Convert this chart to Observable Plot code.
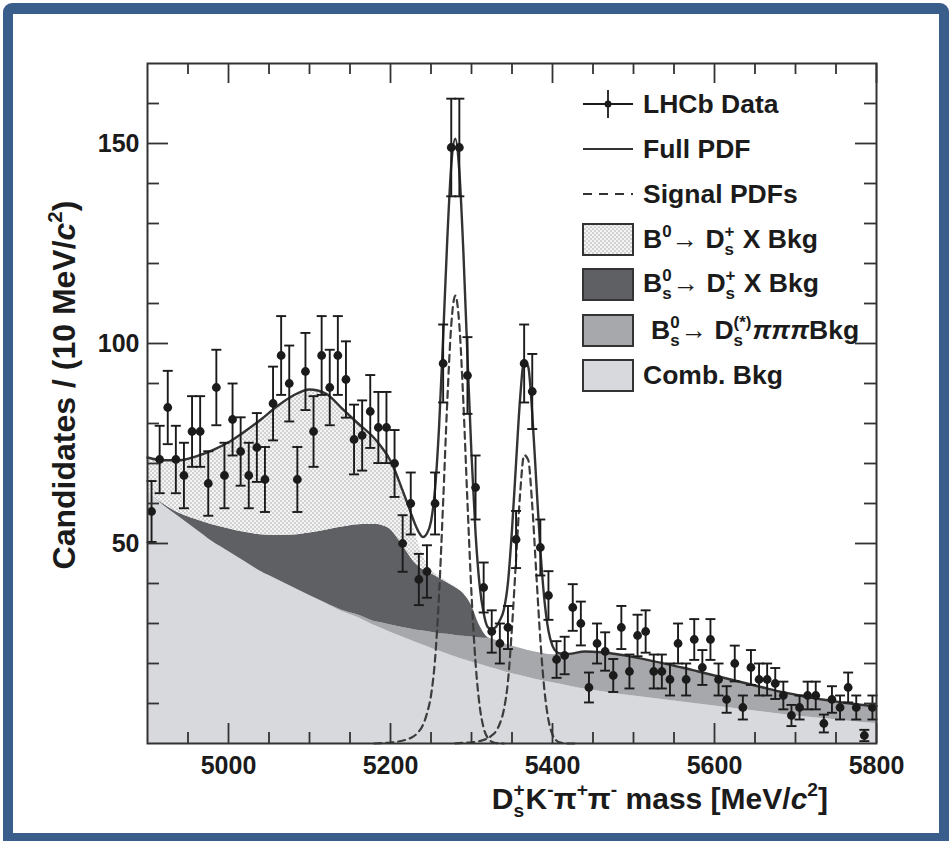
<!DOCTYPE html>
<html><head><meta charset="utf-8">
<script src="https://cdn.jsdelivr.net/npm/d3@7"></script>
<script src="https://cdn.jsdelivr.net/npm/@observablehq/plot@0.6"></script>
<style>body{margin:0;background:#fff;} svg{display:block;}</style>
</head><body><div id="chart"></div>
<script>
// ---------------- data ----------------
const binCenters = [4905,4915,4925,4935,4945,4955,4965,4975,4985,4995,
  5005,5015,5025,5035,5045,5055,5065,5075,5085,5095,
  5105,5115,5125,5135,5145,5155,5165,5175,5185,5195,
  5205,5215,5225,5235,5245,5255,5265,5275,5285,5295,
  5305,5315,5325,5335,5345,5355,5365,5375,5385,5395,
  5405,5415,5425,5435,5445,5455,5465,5475,5485,5495,
  5505,5515,5525,5535,5545,5555,5565,5575,5585,5595,
  5605,5615,5625,5635,5645,5655,5665,5675,5685,5695,
  5705,5715,5725,5735,5745,5755,5765,5775,5785,5795];
const counts = [58,71,84,71,67,78,78,65,89,67,
  81,73,67,74,66,85,97,90,66,93,
  78,97,89,97,91,76,77,83,79,79,
  70,50,60,41,43,60,95,149,149,92,
  64,39,28,25,29,51,95,88,49,37,
  21,22,34,30,14,25,23,17,29,18,
  27,28,18,18,16,25,16,26,19,26,
  16,11,20,9,19,16,16,15,12,7,
  9,12,12,5,11,9,14,9,2,9];

// background components (stacked, bottom to top), on a common mass grid
const bkgMass = [4900,4920,4940,4960,4980,5000,5020,5040,5060,5080,5100,5120,5140,5160,5180,
  5190,5200,5210,5220,5230,5240,5250,5260,5270,5280,5290,5300,5310,5320,5330,5340,
  5360,5380,5400,5420,5440,5460,5480,5500,5520,5540,5560,5580,5600,5620,5640,5660,5680,5700,5720,5740,5760,5780,5800];
const combBkg = [63,59.5,56.5,53.5,50.5,48,45.5,43,41,39,37,35,33,31.5,29.5,
  28.7,27.8,27,26.2,25.4,24.6,23.8,23.1,22.4,21.7,21,20.4,19.8,19.2,18.6,18,
  17,16,15.2,14.4,13.6,13,12.4,11.9,11.4,10.9,10.4,9.9,9.4,8.9,8.4,7.9,7.4,6.9,6.5,6.1,5.7,5.3,5.0];
const bsDsPiPiPiBkg = [0,0,0,0,0,0,0,0,0,0,0,0.1,0.3,0.6,1.0,
  1.4,1.8,2.2,2.6,3.0,3.5,4.0,4.4,4.9,5.3,5.8,6.2,6.6,7.1,7.2,7.0,
  6.8,6.8,7.0,8.0,9.4,9.8,9.9,9.7,9.4,9.0,8.6,8.1,7.6,7.1,6.6,6.1,5.6,5.3,4.9,4.7,4.5,4.4,4.3];
const bsDsXBkg = [0,0.3,1.0,2.5,4.2,5.7,7.3,9.2,11,13.1,15.6,18.2,20.8,22.6,24.3,
  24.4,23.9,21.8,19.2,16.8,15.4,14.7,13.8,12.9,12,10.7,7.9,3.1,0.2,0,0,
  0,0,0,0,0,0,0,0,0,0,0,0,0,0,0,0,0,0,0,0,0,0,0];
const b0DsXBkg = [8.5,11,13.3,15.8,18.6,21.6,25.2,28.8,32.3,34.9,35.9,34.2,29.7,25.3,21.5,
  19.2,17,14.5,11.5,7.8,3.5,1.0,0.6,0.3,0.2,0.1,0,0,0,0,0,
  0,0,0,0,0,0,0,0,0,0,0,0,0,0,0,0,0,0,0,0,0,0,0];

// signal PDFs (dashed)
const sig1Mass = [5180,5190,5200,5210,5220,5225,5230,5235,5240,5245,5250,5255,5260,5265,5270,5275,5280,5285,5290,5295,5300,5305,5310,5315,5320,5325,5330,5335,5340];
const sig1 = [0,0.1,0.25,0.5,1,1.4,2,3,4.6,7.5,12,21,37.4,60.4,85.1,104.6,112,104.6,85.1,60.4,37.4,20.2,9.5,3.9,1.4,0.45,0.12,0.03,0];
const sig2Mass = [5280,5290,5300,5310,5315,5320,5325,5330,5335,5340,5345,5350,5355,5360,5365,5370,5375,5380,5385,5390,5395,5400,5405,5410,5420,5430];
const sig2 = [0.05,0.15,0.3,0.6,0.9,1.3,2,3,5,8.5,15.5,29,46,62.4,72.1,70.9,59.5,42.5,25.9,13.4,5.9,2.2,0.7,0.2,0,0];

// full PDF (solid)
const fullMass = [4900,4920,4940,4960,4980,5000,5020,5040,5060,5080,5100,5120,5140,5160,5180,5190,5200,
  5205,5210,5215,5220,5225,5230,5235,5240,5245,5250,5255,5260,5265,5270,5275,5280,5285,5290,5295,5300,
  5305,5310,5315,5320,5325,5330,5335,5340,5345,5350,5355,5360,5365,5370,5375,5380,5385,5390,5395,5400,5405,5410,
  5420,5440,5460,5480,5500,5520,5540,5560,5580,5600,5620,5640,5660,5680,5700,5720,5740,5760,5780,5800];
const fullPdf = [71.5,70.8,70.8,71.8,73.3,75.3,78,81,84.3,87,88.5,87.5,83.8,80,76.3,73.8,70.7,
  68.5,65.9,63.2,60.5,57.7,55,52.8,51.6,52.5,55.5,63.6,79.3,101.6,125.6,144.5,151.2,143,122.8,96.8,72.2,
  52.6,39.6,32.6,29.1,28.6,29.1,30.8,33.5,40.2,53.4,70.1,86.2,95.6,94.2,82.5,65.3,48.5,35.9,28.2,24.4,22.9,22.5,
  22.4,23,22.8,22.3,21.6,20.8,19.9,19,18,17,16,15,14,13,12.2,11.4,10.8,10.2,9.7,9.3];

// axis ticks
const xMajorTicks = [5000,5200,5400,5600,5800];
const xMinorTicks = [4950,5050,5100,5150,5250,5300,5350,5450,5500,5550,5650,5700,5750];
const yMajorTicks = [50,100,150];
const yMinorTicks = [10,20,30,40,60,70,80,90,110,120,130,140,160];

const compNames = ["Comb. Bkg","Bs->Ds(*)pipipi Bkg","Bs->Ds X Bkg","B0->Ds X Bkg"];
const compValues = [combBkg, bsDsPiPiPiBkg, bsDsXBkg, b0DsXBkg];

// ---------------- styles ----------------
const FONT = "'Liberation Sans', Arial, Helvetica, sans-serif";
const INK = "#1b1b1b";
const compFills = ["#d8d9dc", "#a7a8ab", "#5f6064", "url(#checker)"];

// ---------------- tables ----------------
const bkgTable = [];
compNames.forEach((c, i) => bkgMass.forEach((m, j) => bkgTable.push({mass: m, value: compValues[i][j], comp: c})));
const dataTable = binCenters.map((m, i) => ({mass: m, count: counts[i], lo: counts[i] - Math.sqrt(counts[i]), hi: counts[i] + Math.sqrt(counts[i])}));
const capTable = dataTable.flatMap(d => [{mass: d.mass, y: d.lo}, {mass: d.mass, y: d.hi}]);
const sig1Table = sig1Mass.map((m, i) => ({mass: m, value: sig1[i]}));
const sig2Table = sig2Mass.map((m, i) => ({mass: m, value: sig2[i]}));
const fullTable = fullMass.map((m, i) => ({mass: m, value: fullPdf[i]}));

const W = 952, H = 841, mL = 147, mR = 76, mT = 63, mB = 98;
const innerW = W - mL - mR, innerH = H - mT - mB;

const capSymbol = {draw(ctx, size) { const w = Math.sqrt(size / Math.PI); ctx.moveTo(-w, 0); ctx.lineTo(w, 0); }};
const tickStyle = {stroke: "#333", strokeWidth: 1.8};

const svgNode = Plot.plot({
  width: W, height: H, marginLeft: mL, marginRight: mR, marginTop: mT, marginBottom: mB,
  x: {domain: [4900, 5800]},
  y: {domain: [0, 170]},
  color: {domain: compNames, range: compFills},
  style: {fontFamily: FONT, color: INK, background: "white"},
  marks: [
    Plot.areaY(bkgTable, Plot.stackY({x: "mass", y: "value", z: "comp", fill: "comp", curve: "monotone-x"})),
    Plot.lineY(sig1Table, {x: "mass", y: "value", stroke: "#3c3c3c", strokeWidth: 2.2, strokeDasharray: "7,5", curve: "monotone-x"}),
    Plot.lineY(sig2Table, {x: "mass", y: "value", stroke: "#3c3c3c", strokeWidth: 2.2, strokeDasharray: "7,5", curve: "monotone-x"}),
    Plot.lineY(fullTable, {x: "mass", y: "value", stroke: "#333", strokeWidth: 2.4, curve: "monotone-x"}),
    Plot.ruleX(dataTable, {x: "mass", y1: "lo", y2: "hi", stroke: INK, strokeWidth: 1.9}),
    Plot.dot(capTable, {x: "mass", y: "y", symbol: capSymbol, r: 5, stroke: INK, strokeWidth: 1.9, fill: "none"}),
    Plot.dot(dataTable, {x: "mass", y: "count", r: 4.4, fill: INK, stroke: "none"}),
    Plot.frame({stroke: "#333", strokeWidth: 2}),
    Plot.tickX(xMajorTicks, {x: d => d, insetTop: innerH - 20, ...tickStyle}),
    Plot.tickX(xMinorTicks, {x: d => d, insetTop: innerH - 11, ...tickStyle}),
    Plot.tickX(xMajorTicks, {x: d => d, insetBottom: innerH - 20, ...tickStyle}),
    Plot.tickX(xMinorTicks, {x: d => d, insetBottom: innerH - 11, ...tickStyle}),
    Plot.tickY(yMajorTicks, {y: d => d, insetRight: innerW - 21, ...tickStyle}),
    Plot.tickY(yMinorTicks, {y: d => d, insetRight: innerW - 12, ...tickStyle}),
    Plot.tickY(yMajorTicks, {y: d => d, insetLeft: innerW - 21, ...tickStyle}),
    Plot.tickY(yMinorTicks, {y: d => d, insetLeft: innerW - 12, ...tickStyle}),
    Plot.axisX({ticks: xMajorTicks, tickSize: 0, tickPadding: 13, fontSize: 25, fontWeight: "bold", tickFormat: d => String(d), label: null}),
    Plot.axisY({ticks: yMajorTicks, tickSize: 0, tickPadding: 8, fontSize: 25, fontWeight: "bold", tickFormat: d => String(d), label: null})
  ]
});
document.getElementById("chart").appendChild(svgNode);
const svg = d3.select(svgNode);

// defs: checker pattern
const defs = svg.insert("defs", ":first-child");
const pat = defs.append("pattern").attr("id", "checker").attr("patternUnits", "userSpaceOnUse").attr("width", 4).attr("height", 4);
pat.append("rect").attr("width", 4).attr("height", 4).attr("fill", "#f4f4f4");
pat.append("rect").attr("width", 2).attr("height", 2).attr("fill", "#d2d2d2");
pat.append("rect").attr("x", 2).attr("y", 2).attr("width", 2).attr("height", 2).attr("fill", "#d2d2d2");

// blue border frame behind everything
const bg = svg.insert("g", "defs + *");
bg.append("rect").attr("x", 3).attr("y", 3).attr("width", 946).attr("height", 870).attr("rx", 9).attr("fill", "#3a5e8c");
bg.append("rect").attr("x", 13).attr("y", 14).attr("width", 926).attr("height", 819).attr("fill", "#ffffff");

// rich text helper (sub / superscripts)
function rich(parent, x, y, parts, {size = 25, anchor = "start", transform = null} = {}) {
  const t = parent.append("text").attr("x", x).attr("y", y)
    .attr("font-family", FONT).attr("font-size", size).attr("font-weight", "bold")
    .attr("fill", INK).attr("text-anchor", anchor).style("white-space", "pre");
  if (transform) t.attr("transform", transform);
  const supOff = -0.42 * size, subOff = 0.28 * size, small = 0.64 * size;
  let cur = 0, pend = 0;
  const seg = (txt, off, fs, italic) => {
    const ts = t.append("tspan").attr("dy", off - cur).text(txt);
    if (pend) { ts.attr("dx", pend); pend = 0; }
    if (fs) ts.attr("font-size", fs);
    if (italic) ts.attr("font-style", "italic");
    cur = off;
    return ts;
  };
  for (const p of parts) {
    if (typeof p === "string") seg(p, 0);
    else if (p.it) seg(p.it, 0, null, true);
    else if (p.sup) seg(p.sup, supOff, small);
    else if (p.sub) seg(p.sub, subOff, small);
    else if (p.ss) {
      const a = seg(p.ss[1], supOff, small);
      const la = a.node().getComputedTextLength();
      const b = t.append("tspan").attr("dy", subOff - cur).attr("dx", -la).attr("font-size", small).text(p.ss[0]);
      cur = subOff;
      const lb = b.node().getComputedTextLength();
      pend = Math.max(0, la - lb) + 1;
    }
  }
  return t;
}

// axis titles
rich(svg, 828, 809, ["D", {ss: ["s", "+"]}, "K", {sup: "-"}, "π", {sup: "+"}, "π", {sup: "-"}, " mass [MeV/", {it: "c"}, {sup: "2"}, "]"], {size: 30, anchor: "end"});
rich(svg, 0, 0, ["Candidates / (10 MeV/", {it: "c"}, {sup: "2"}, ")"], {size: 32, anchor: "middle", transform: "translate(75,385) rotate(-90)"});

// legend
const lg = svg.append("g");
const lx0 = 583, lx1 = 633, lxm = 608, tx = 643;
lg.append("line").attr("x1", lx0).attr("x2", lx1).attr("y1", 104).attr("y2", 104).attr("stroke", INK).attr("stroke-width", 1.8);
lg.append("line").attr("x1", lxm).attr("x2", lxm).attr("y1", 90).attr("y2", 118).attr("stroke", INK).attr("stroke-width", 1.8);
lg.append("circle").attr("cx", lxm).attr("cy", 104).attr("r", 3.5).attr("fill", INK);
lg.append("line").attr("x1", lx0).attr("x2", lx1).attr("y1", 149).attr("y2", 149).attr("stroke", "#333").attr("stroke-width", 2);
lg.append("line").attr("x1", lx0).attr("x2", lx1).attr("y1", 194).attr("y2", 194).attr("stroke", "#333").attr("stroke-width", 2).attr("stroke-dasharray", "9,7");
const boxY = [224, 269, 315, 360];
const boxFill = ["url(#checker)", "#5f6064", "#a7a8ab", "#d8d9dc"];
boxY.forEach((y, i) => lg.append("rect").attr("x", lx0).attr("y", y).attr("width", 50).attr("height", 31)
  .attr("fill", boxFill[i]).attr("stroke", "#333").attr("stroke-width", 2));
const LS = 26.5;
rich(lg, tx, 113, ["LHCb Data"], {size: LS});
rich(lg, tx, 158, ["Full PDF"], {size: LS});
rich(lg, tx, 203, ["Signal PDFs"], {size: LS});
rich(lg, tx, 248, ["B", {sup: "0"}, "→ D", {ss: ["s", "+"]}, " X Bkg"], {size: LS});
rich(lg, tx, 292, ["B", {ss: ["s", "0"]}, "→ D", {ss: ["s", "+"]}, " X Bkg"], {size: LS});
rich(lg, tx + 8, 339, ["B", {ss: ["s", "0"]}, "→ D", {ss: ["s", "(*)"]}, {it: "πππ"}, "Bkg"], {size: LS});
rich(lg, tx, 384, ["Comb. Bkg"], {size: LS});
</script>
</body></html>
